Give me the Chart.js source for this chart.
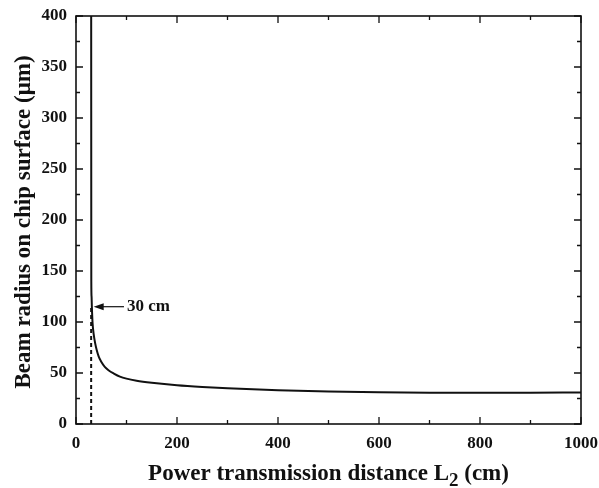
<!DOCTYPE html>
<html>
<head>
<meta charset="utf-8">
<script src="https://cdn.jsdelivr.net/npm/chart.js@4/dist/chart.umd.min.js"></script>
<style>
  html, body { margin: 0; padding: 0; background: #fff; }
  #wrap { width: 599px; height: 488px; position: relative; }
</style>
</head>
<body>
<div id="wrap"><canvas id="chart"></canvas></div>
<script>
// Beam radius on the chip surface versus power transmission distance L2
const distanceCm = [30.05, 30.3, 30.8, 31.4, 32.8, 35, 38, 41, 45, 50, 57, 65, 75, 87, 100, 120, 150, 200, 250, 300, 400, 500, 600, 700, 800, 900, 1000];
const beamRadiusUm = [420, 140, 125, 115, 99, 88, 79, 72.5, 66, 61, 56, 52.5, 49.5, 46.5, 44.5, 42.5, 40.5, 38, 36.3, 35, 33.2, 31.9, 31.1, 30.7, 30.6, 30.7, 31];

// Vertical marker at the chosen working distance
const markerDistanceCm = [30, 30];
const markerRadiusUm = [0, 115];

// Arrow callout pointing at the curve
const calloutTip = { x: 35, y: 115 };
const calloutTail = { x: 95, y: 115 };
const calloutText = '30 cm';

// Axis ranges and tick steps
const xRange = [0, 1000];
const yRange = [0, 400];
const xMajorStep = 200, xMinorStep = 100;
const yMajorStep = 50, yMinorStep = 25;

const xTitleMain = 'Power transmission distance L';
const xTitleSub = '2';
const xTitleTail = ' (cm)';
const yTitle = 'Beam radius on chip surface (\u03bcm)';

const SERIF = "'Liberation Serif', 'Times New Roman', serif";
const INK = '#111';

const framePlugin = {
  id: 'frameAndNotes',
  afterDatasetsDraw(chart) {
    const { ctx, chartArea: a, scales: { x, y } } = chart;
    ctx.save();

    // frame
    ctx.strokeStyle = INK;
    ctx.lineWidth = 1.6;
    ctx.strokeRect(a.left, a.top, a.right - a.left, a.bottom - a.top);

    // inward ticks on all four sides
    ctx.lineWidth = 1.3;
    ctx.beginPath();
    for (let v = xRange[0]; v <= xRange[1]; v += xMinorStep) {
      const px = x.getPixelForValue(v);
      const len = (v % xMajorStep === 0) ? 7 : 4;
      ctx.moveTo(px, a.bottom); ctx.lineTo(px, a.bottom - len);
      ctx.moveTo(px, a.top); ctx.lineTo(px, a.top + len);
    }
    for (let v = yRange[0]; v <= yRange[1]; v += yMinorStep) {
      const py = y.getPixelForValue(v);
      const len = (v % yMajorStep === 0) ? 7 : 4;
      ctx.moveTo(a.left, py); ctx.lineTo(a.left + len, py);
      ctx.moveTo(a.right, py); ctx.lineTo(a.right - len, py);
    }
    ctx.stroke();

    // callout arrow
    const tx = x.getPixelForValue(calloutTip.x), ty = y.getPixelForValue(calloutTip.y);
    const ex = x.getPixelForValue(calloutTail.x);
    ctx.lineWidth = 1.2;
    ctx.beginPath();
    ctx.moveTo(ex, ty); ctx.lineTo(tx + 8, ty);
    ctx.stroke();
    ctx.fillStyle = INK;
    ctx.beginPath();
    ctx.moveTo(tx, ty);
    ctx.lineTo(tx + 10, ty - 3.5);
    ctx.lineTo(tx + 10, ty + 3.5);
    ctx.closePath();
    ctx.fill();

    ctx.font = `bold 17px ${SERIF}`;
    ctx.textBaseline = 'middle';
    ctx.textAlign = 'left';
    ctx.fillText(calloutText, ex + 3, ty);

    // x axis title with subscript
    const mainFont = `bold 23px ${SERIF}`;
    const subFont = `bold 19px ${SERIF}`;
    ctx.font = mainFont;
    const w1 = ctx.measureText(xTitleMain).width;
    const w3 = ctx.measureText(xTitleTail).width;
    ctx.font = subFont;
    const w2 = ctx.measureText(xTitleSub).width;
    const total = w1 + w2 + w3;
    const cx = (a.left + a.right) / 2;
    const by = a.bottom + 56;
    let sx = cx - total / 2;
    ctx.textBaseline = 'alphabetic';
    ctx.font = mainFont;
    ctx.fillText(xTitleMain, sx, by);
    sx += w1;
    ctx.font = subFont;
    ctx.fillText(xTitleSub, sx, by + 6);
    sx += w2;
    ctx.font = mainFont;
    ctx.fillText(xTitleTail, sx, by);

    // y axis title
    ctx.save();
    ctx.translate(24, (a.top + a.bottom) / 2 + 2);
    ctx.rotate(-Math.PI / 2);
    ctx.textAlign = 'center';
    ctx.textBaseline = 'middle';
    ctx.font = mainFont;
    ctx.fillText(yTitle, 0, 0);
    ctx.restore();

    ctx.restore();
  }
};

new Chart(document.getElementById('chart'), {
  type: 'line',
  data: {
    datasets: [
      {
        label: 'Beam radius',
        data: distanceCm.map((d, i) => ({ x: d, y: beamRadiusUm[i] })),
        borderColor: INK,
        borderWidth: 2,
        pointRadius: 0,
        fill: false,
        cubicInterpolationMode: 'monotone'
      },
      {
        label: 'Working distance',
        data: markerDistanceCm.map((d, i) => ({ x: d, y: markerRadiusUm[i] })),
        borderColor: INK,
        borderWidth: 2,
        borderDash: [4, 3],
        pointRadius: 0,
        fill: false
      }
    ]
  },
  options: {
    responsive: true,
    maintainAspectRatio: false,
    animation: false,
    events: [],
    layout: { padding: { top: 16, right: 18, left: 0, bottom: 0 } },
    plugins: { legend: { display: false }, tooltip: { enabled: false } },
    scales: {
      x: {
        type: 'linear',
        min: xRange[0], max: xRange[1],
        grid: { display: false, drawTicks: false },
        border: { display: false },
        ticks: {
          stepSize: xMajorStep,
          color: INK,
          padding: 9,
          maxRotation: 0,
          callback: v => String(v),
          font: { family: SERIF, size: 17, weight: 'bold' }
        },
        afterFit(scale) {
          scale.height = 64;
          scale.paddingLeft = 0;
          scale.paddingRight = 0;
        }
      },
      y: {
        type: 'linear',
        min: yRange[0], max: yRange[1],
        grid: { display: false, drawTicks: false },
        border: { display: false },
        ticks: {
          stepSize: yMajorStep,
          color: INK,
          padding: 9,
          callback: v => String(v),
          font: { family: SERIF, size: 17, weight: 'bold' }
        },
        afterFit(scale) {
          scale.width = 76;
          scale.paddingTop = 0;
          scale.paddingBottom = 0;
        }
      }
    }
  },
  plugins: [framePlugin]
});
</script>
</body>
</html>
